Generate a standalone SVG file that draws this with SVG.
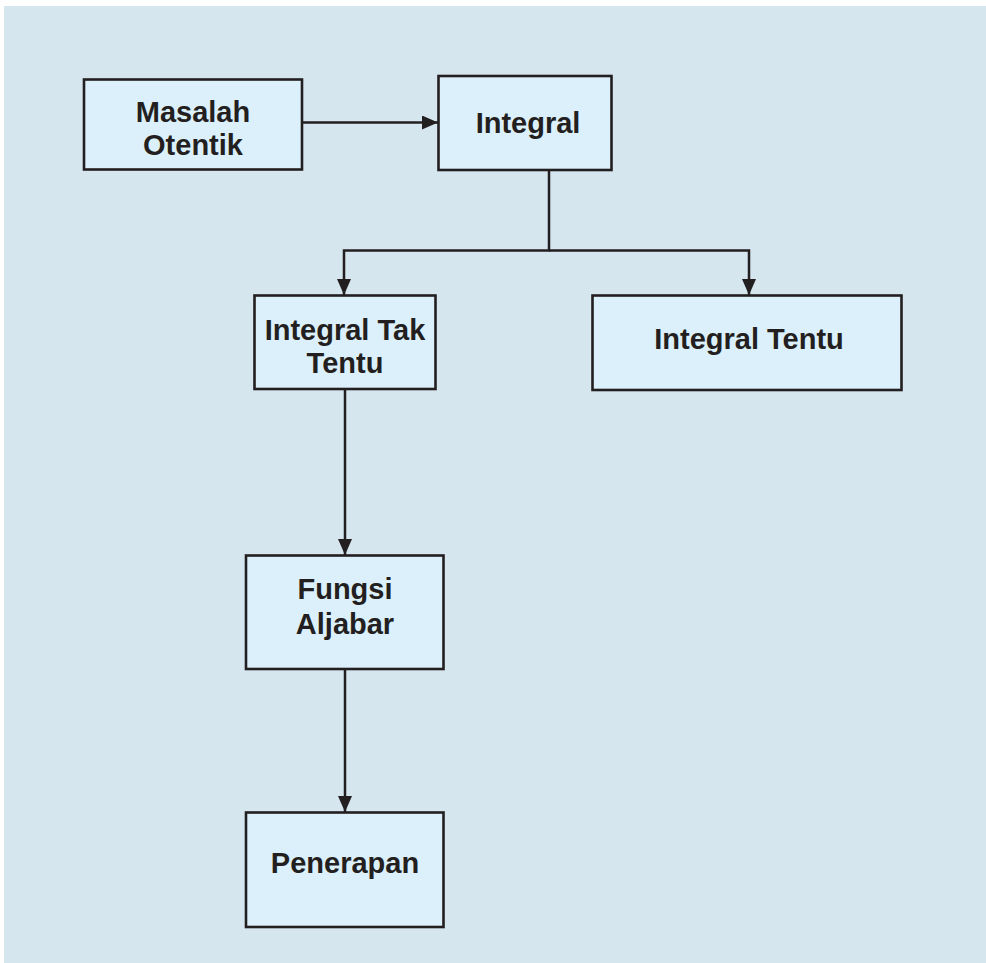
<svg xmlns="http://www.w3.org/2000/svg" width="986" height="963" viewBox="0 0 986 963">
<style>
.box{fill:#dbf0fb;stroke:#231f20;stroke-width:2.6}
.lbl{font-family:"Liberation Sans",Arial,sans-serif;font-weight:bold;font-size:29px;fill:#231f20;text-anchor:middle}
.con{fill:none;stroke:#231f20;stroke-width:2.5}
</style>
<defs>
<marker id="ah" markerUnits="userSpaceOnUse" markerWidth="16" markerHeight="14" refX="16" refY="7" orient="auto">
<path d="M0,0 L16,7 L0,14 Z" fill="#231f20"/>
</marker>
</defs>
<rect x="4" y="6" width="982" height="957" fill="#d5e6ef"/>
<g id="connectors">
<path class="con" d="M302,122.5 H438" marker-end="url(#ah)"/>
<path class="con" d="M549,170 V250.5 H344 V295" marker-end="url(#ah)"/>
<path class="con" d="M549,250.5 H749 V295" marker-end="url(#ah)"/>
<path class="con" d="M345,389 V555" marker-end="url(#ah)"/>
<path class="con" d="M345,669 V812" marker-end="url(#ah)"/>
</g>
<g id="masalah-otentik">
<rect class="box" x="84" y="79.5" width="218" height="90"/>
<text class="lbl" x="193" y="121.7">Masalah</text>
<text class="lbl" x="193" y="155">Otentik</text>
</g>
<g id="integral">
<rect class="box" x="438.5" y="76" width="173" height="94"/>
<text class="lbl" x="528" y="133.3">Integral</text>
</g>
<g id="integral-tak-tentu">
<rect class="box" x="254.5" y="295.5" width="181" height="93.5"/>
<text class="lbl" x="345" y="340">Integral Tak</text>
<text class="lbl" x="345" y="373">Tentu</text>
</g>
<g id="integral-tentu">
<rect class="box" x="592.5" y="295.5" width="309" height="94.5"/>
<text class="lbl" x="749" y="349">Integral Tentu</text>
</g>
<g id="fungsi-aljabar">
<rect class="box" x="246" y="555.5" width="197.5" height="113.5"/>
<text class="lbl" x="345" y="599.3">Fungsi</text>
<text class="lbl" x="345" y="634">Aljabar</text>
</g>
<g id="penerapan">
<rect class="box" x="246" y="812.5" width="197.5" height="114.5"/>
<text class="lbl" x="345" y="873.3">Penerapan</text>
</g>
</svg>
